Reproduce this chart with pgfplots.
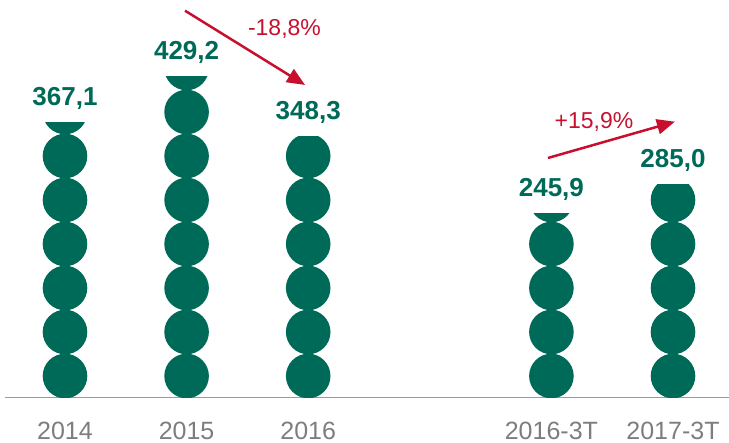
\documentclass[border=0pt]{standalone}
\usepackage{fontspec}
\setmainfont{Liberation Sans}
\usepackage{pgfplots}
\usepackage{pgfplotstable}
\pgfplotsset{compat=1.18}
\usetikzlibrary{arrows.meta}

\definecolor{ptgreen}{RGB}{0,106,89}
\definecolor{ptred}{RGB}{200,16,46}
\definecolor{txtgray}{RGB}{125,125,125}
\definecolor{basegray}{RGB}{155,155,155}

% x = slot of the category, v = value
\pgfplotstableread{
x v
0 367.1
1 429.2
2 348.3
4 245.9
5 285.0
}\tabdata

% column of stacked circles, cut at the value (0.748bp per unit)
\pgfdeclareplotmark{picto}{%
  \pgfpathrectanglecorners{\pgfqpoint{-24bp}{0bp}}{\pgfqpoint{24bp}{\colh}}%
  \pgfusepath{clip}%
  \foreach \k in {0,...,9}{%
    \pgfpathcircle{\pgfqpoint{0bp}{\dimexpr21.5bp+44bp*\k\relax}}{22.3bp}%
    \pgfusepath{fill}%
  }%
}
\newdimen\colh

\begin{document}
\begin{tikzpicture}
\begin{axis}[
    at={(0,0)}, anchor=south west,
    scale only axis,
    width=729bp, height=443bp,
    xmin=-0.5345, xmax=5.4605,
    ymin=-60.83, ymax=531.4,
    axis line style={draw=none},
    tick style={draw=none},
    ytick=\empty,
    xtick={0,1,2,4,5},
    xticklabels={2014,2015,2016,2016-3T,2017-3T},
    xticklabel style={anchor=base, yshift=4bp, text=txtgray,
        font=\fontsize{25bp}{28bp}\selectfont},
    clip=false,
    /pgf/number format/.cd, fixed, fixed zerofill, precision=1,
        use comma, 1000 sep={}, assume math mode=true,
]
\draw[basegray, line width=1.6bp] (axis cs:-0.493,0) -- (axis cs:5.4605,0);

% circles (meta mapped 0..1000 so that the transformed meta is the value)
\addplot[scatter, only marks, mark=picto, color=ptgreen,
    point meta=\thisrow{v}, point meta min=0, point meta max=1000,
    scatter/@pre marker code/.code={\pgfscope
        \global\colh=\dimexpr\pgfplotspointmetatransformed bp*748/1000\relax},
    scatter/@post marker code/.code={\endpgfscope},
] table[x=x, y expr=0] {\tabdata};

% values
\addplot[ybar, bar width=40bp, draw=none, fill=none,
    nodes near coords,
    every node near coord/.append style={inner sep=0pt, text depth=0pt,
        anchor=south, yshift=17bp, text=ptgreen,
        font=\fontsize{26bp}{30bp}\selectfont\bfseries},
] table[x=x, y=v] {\tabdata};

% changes
\draw[ptred, line width=2.5bp, -{Triangle[length=18bp, width=15bp]}]
    (axis cs:0.987,517.1) -- (axis cs:1.974,417.8);
\draw[ptred, line width=2.5bp, -{Triangle[length=18bp, width=15bp]}]
    (axis cs:3.972,320.2) -- (axis cs:5.016,368.7);
\node[ptred, anchor=base, font=\fontsize{23bp}{26bp}\selectfont]
    at (axis cs:1.805,484.6) {-18,8\%};
\node[ptred, anchor=base, font=\fontsize{23bp}{26bp}\selectfont]
    at (axis cs:4.35,359.0) {+15,9\%};
\end{axis}
\pgfresetboundingbox
\useasboundingbox (0,0) rectangle (729bp,443bp);
\end{tikzpicture}
\end{document}
